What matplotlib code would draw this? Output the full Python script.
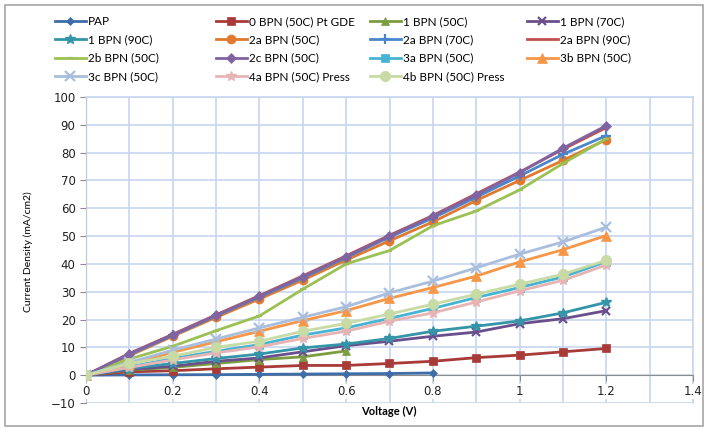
import matplotlib
matplotlib.use("Agg")
import matplotlib.pyplot as plt
from matplotlib.patches import Rectangle
import numpy as np

voltage = [0, 0.1, 0.2, 0.3, 0.4, 0.5, 0.6, 0.7, 0.8, 0.9, 1.0, 1.1, 1.2]

labels = ["PAP", "0 BPN (50C) Pt GDE", "1 BPN (50C)", "1 BPN (70C)",
          "1 BPN (90C)", "2a BPN (50C)", "2a BPN (70C)", "2a BPN (90C)",
          "2b BPN (50C)", "2c BPN (50C)", "3a BPN (50C)", "3b BPN (50C)",
          "3c BPN (50C)", "4a BPN (50C) Press", "4b BPN (50C) Press"]

pap        = [0, 0.1, 0.15, 0.2, 0.3, 0.4, 0.5, 0.6, 0.8]
bpn0_50    = [0, 1.2, 1.6, 2.3, 2.9, 3.5, 3.5, 4.2, 5.0, 6.3, 7.2, 8.4, 9.6]
bpn1_50    = [0, 1.8, 2.8, 4.2, 5.6, 6.6, 8.7]
bpn1_70    = [0, 2.0, 3.2, 5.0, 6.2, 8.4, 10.6, 12.2, 14.0, 15.5, 18.5, 20.3, 23.2]
bpn1_90    = [0, 2.4, 4.2, 6.0, 7.6, 9.8, 11.2, 13.2, 15.8, 17.6, 19.5, 22.4, 26.2]
bpn2a_50   = [0, 7.0, 14.0, 20.8, 27.4, 34.2, 41.4, 48.3, 55.1, 62.8, 70.0, 77.2, 84.7]
bpn2a_70   = [0, 7.4, 14.3, 21.3, 28.1, 35.0, 42.3, 49.6, 56.5, 64.0, 71.6, 79.4, 86.1]
bpn2a_90   = [0, 7.8, 14.7, 21.7, 28.6, 35.7, 42.9, 50.3, 57.4, 65.2, 73.0, 81.2, 89.0]
bpn2b_50   = [0, 5.8, 10.4, 16.0, 21.3, 30.9, 40.0, 44.8, 53.7, 59.0, 66.6, 76.1, 85.0]
bpn2c_50   = [0, 7.7, 14.5, 21.5, 28.4, 35.4, 42.6, 50.0, 57.1, 64.8, 72.8, 81.6, 89.7]
bpn3a_50   = [0, 3.0, 6.0, 8.6, 11.0, 14.4, 17.0, 20.4, 24.0, 27.9, 31.5, 35.3, 40.8]
bpn3b_50   = [0, 4.0, 8.2, 12.0, 15.8, 19.6, 23.2, 27.6, 31.5, 35.6, 40.7, 45.1, 50.2]
bpn3c_50   = [0, 4.6, 9.0, 13.0, 17.0, 20.8, 24.6, 29.6, 33.8, 38.6, 43.5, 47.9, 53.2]
bpn4a_50p  = [0, 2.8, 5.5, 8.0, 10.2, 13.2, 15.8, 19.4, 22.4, 26.3, 30.3, 34.1, 39.6]
bpn4b_50p  = [0, 4.2, 6.8, 10.0, 12.2, 15.8, 18.6, 22.0, 25.5, 29.1, 32.7, 36.3, 41.3]

series = [pap, bpn0_50, bpn1_50, bpn1_70, bpn1_90, bpn2a_50, bpn2a_70, bpn2a_90,
          bpn2b_50, bpn2c_50, bpn3a_50, bpn3b_50, bpn3c_50, bpn4a_50p, bpn4b_50p]

colors = ["#3E6DAA", "#A83A38", "#7C9C40", "#6A4F8C", "#3494A8", "#E0782E",
          "#4A86CC", "#C0504D", "#9BC152", "#8064A2", "#46B4D2", "#F79646",
          "#A9BEDD", "#E8B4B3", "#C8DBA4"]
markers = ["D", "s", "^", "x", "*", "o", "+", "None", "_", "D", "s", "^", "x", "*", "o"]
msizes  = [4.5, 6, 6, 6, 7, 6.5, 7, 0, 4, 5.5, 6, 6.5, 7, 7, 7.5]

fig = plt.figure(figsize=(7.09, 4.29), dpi=100)
W, H = 709, 429
ax = fig.add_axes([86 / W, 1 - 403 / H, (693 - 86) / W, (403 - 97) / H])

handles = []
for i, (lab, ys) in enumerate(zip(labels, series)):
    xs = voltage[:len(ys)]
    mk = markers[i]
    if mk in ("x", "+", "_"):
        mew = 1.6
    elif mk == "*":
        mew = 1.0
    else:
        mew = 0.5
    ln, = ax.plot(xs, ys, color=colors[i], lw=2.0, marker=mk,
                  markersize=msizes[i], markerfacecolor=colors[i],
                  markeredgecolor=colors[i], markeredgewidth=mew,
                  label=lab, zorder=3 + i * 0.01)
    handles.append(ln)

ax.set_xlim(0, 1.4)
ax.set_ylim(-10, 100)
ax.set_xticks(np.arange(0, 1.41, 0.2))
ax.set_xticks(np.arange(0, 1.41, 0.1), minor=True)
ax.set_xticklabels(["0", "0.2", "0.4", "0.6", "0.8", "1", "1.2", "1.4"])
ax.set_yticks(np.arange(-10, 101, 10))
ax.grid(True, which="both", color="#C6D6EF", lw=1.2, zorder=0)
ax.set_axisbelow(True)
ax.xaxis.set_zorder(2.6)

for s in ["top", "right"]:
    ax.spines[s].set_color("#C6D6EF")
    ax.spines[s].set_linewidth(1.2)
ax.spines["left"].set_color("#8C8C8C")
ax.spines["bottom"].set_color("#8C8C8C")
ax.spines["bottom"].set_position(("data", 0))
ax.spines["bottom"].set_zorder(2.7)
ax.tick_params(axis="both", which="major", direction="out", length=4,
               color="#8C8C8C", labelsize=8.5, labelcolor="#222222")
ax.tick_params(axis="x", which="minor", length=0)
ax.tick_params(axis="x", pad=3)
for t in ax.get_xticklabels():
    t.set_bbox(dict(facecolor="white", edgecolor="none", pad=0.6))

fig.text(389 / W, 1 - 411 / H, "Voltage (V)", ha="center", va="center",
         fontsize=8, fontweight="bold", family="Lato")
fig.text(28 / W, 1 - 252 / H, "Current Density (mA/cm2)", ha="center",
         va="center", rotation=90, fontsize=7.5, family="Lato")

# legend: 4 uniform columns, row-major order
col_x = [55, 216, 370, 527]
for c in range(4):
    idx = [r * 4 + c for r in range(4) if r * 4 + c < len(handles)]
    fig.legend([handles[k] for k in idx], [labels[k] for k in idx],
               loc="upper left", bbox_to_anchor=(col_x[c] / W, 1 - 16 / H),
               frameon=False, handlelength=2.6,
               handletextpad=0.2, labelspacing=0.62, borderpad=0,
               borderaxespad=0, prop={"family": "Lato", "size": 8.5})

fig.patches.append(Rectangle((5 / W, 3 / H), 698 / W, 421 / H, transform=fig.transFigure,
                             fill=False, edgecolor="#A6A6A6", lw=1.2))

fig.savefig("out.png", dpi=100)
